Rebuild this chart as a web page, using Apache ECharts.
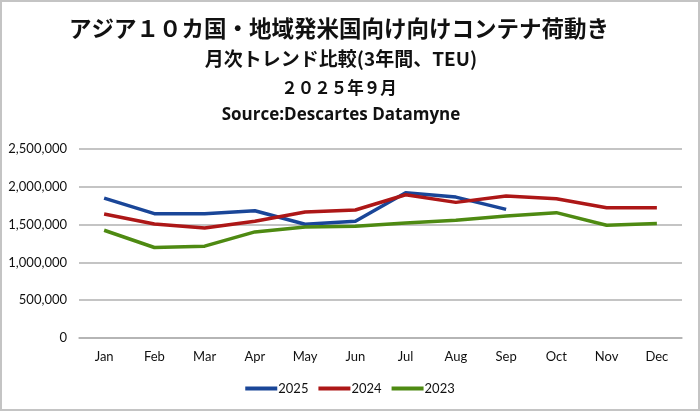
<!DOCTYPE html>
<html>
<head>
<meta charset="utf-8">
<script src="https://cdn.jsdelivr.net/npm/echarts@6/dist/echarts.min.js"></script>
<style>
  html, body { margin: 0; padding: 0; background: #fff; }
  #chart { width: 700px; height: 411px; }
</style>
</head>
<body>
<div id="chart"></div>
<script>
// 月（横軸）
var months = ['Jan', 'Feb', 'Mar', 'Apr', 'May', 'Jun', 'Jul', 'Aug', 'Sep', 'Oct', 'Nov', 'Dec'];

// 各年のTEU
var teu2025 = [1851000, 1645000, 1645000, 1684000, 1504000, 1544000, 1921000, 1864000, 1702000];
var teu2024 = [1640000, 1509000, 1456000, 1544000, 1667000, 1693000, 1895000, 1794000, 1877000, 1842000, 1724000, 1724000];
var teu2023 = [1425000, 1197000, 1215000, 1403000, 1469000, 1478000, 1522000, 1557000, 1614000, 1658000, 1491000, 1513000];

var myChart = echarts.init(document.getElementById('chart'));

var labelFont = 'Lato, "Open Sans", sans-serif';
var jpFont = '"Noto Sans CJK JP", sans-serif';

function mkSeries(name, data, color) {
    return {
        name: name,
        type: 'line',
        data: data,
        symbol: 'none',
        smooth: false,
        lineStyle: { width: 3.5, color: color },
        itemStyle: { color: color }
    };
}

var option = {
    animation: false,
    backgroundColor: '#fff',
    title: [
        {
            text: 'アジア１０カ国・地域発米国向け向けコンテナ荷動き',
            left: 339, top: 16, textAlign: 'center', padding: 0,
            textStyle: { fontFamily: jpFont, fontSize: 22.5, fontWeight: 'bold', color: '#111', lineHeight: 24 }
        },
        {
            text: '月次トレンド比較(3年間、TEU)',
            left: 341, top: 48, textAlign: 'center', padding: 0,
            textStyle: { fontFamily: jpFont, fontSize: 19, fontWeight: 'bold', color: '#111', lineHeight: 22 }
        },
        {
            text: '２０２５年９月',
            left: 339, top: 78, textAlign: 'center', padding: 0,
            textStyle: { fontFamily: jpFont, fontSize: 16.5, fontWeight: 'bold', color: '#111', lineHeight: 20 }
        },
        {
            text: 'Source:Descartes Datamyne',
            left: 341, top: 104, textAlign: 'center', padding: 0,
            textStyle: { fontFamily: '"Open Sans", sans-serif', fontSize: 17, fontWeight: 'bold', color: '#111', lineHeight: 22 }
        }
    ],
    graphic: [
        {
            type: 'rect',
            shape: { x: 1, y: 1, width: 698, height: 409 },
            style: { fill: 'none', stroke: '#c4c4c4', lineWidth: 2 }
        }
    ],
    legend: {
        data: ['2025', '2024', '2023'],
        left: 'center',
        top: 377,
        itemWidth: 32,
        itemHeight: 4,
        itemGap: 10,
        icon: 'rect',
        textStyle: { fontFamily: labelFont, fontSize: 13, color: '#111', padding: [0, 0, 0, -4] }
    },
    grid: {
        left: 79,
        right: 18,
        top: 149,
        bottom: 73,
        containLabel: false
    },
    xAxis: {
        type: 'category',
        data: months,
        boundaryGap: true,
        axisLine: { show: true, lineStyle: { color: '#b0b0b0', width: 1.5 } },
        axisTick: { show: false },
        axisLabel: { fontFamily: labelFont, fontSize: 13, color: '#111', margin: 12 }
    },
    yAxis: {
        type: 'value',
        min: 0,
        max: 2500000,
        interval: 500000,
        axisLine: { show: false },
        axisTick: { show: false },
        splitLine: { lineStyle: { color: '#b0b0b0', width: 1.5 } },
        axisLabel: {
            fontFamily: labelFont, fontSize: 13, color: '#111', margin: 12,
            formatter: function (v) { return v.toLocaleString('en-US'); }
        }
    },
    series: [
        mkSeries('2025', teu2025, '#1a4698'),
        mkSeries('2024', teu2024, '#ad1717'),
        mkSeries('2023', teu2023, '#4e8a12')
    ]
};

myChart.setOption(option);
</script>
</body>
</html>
